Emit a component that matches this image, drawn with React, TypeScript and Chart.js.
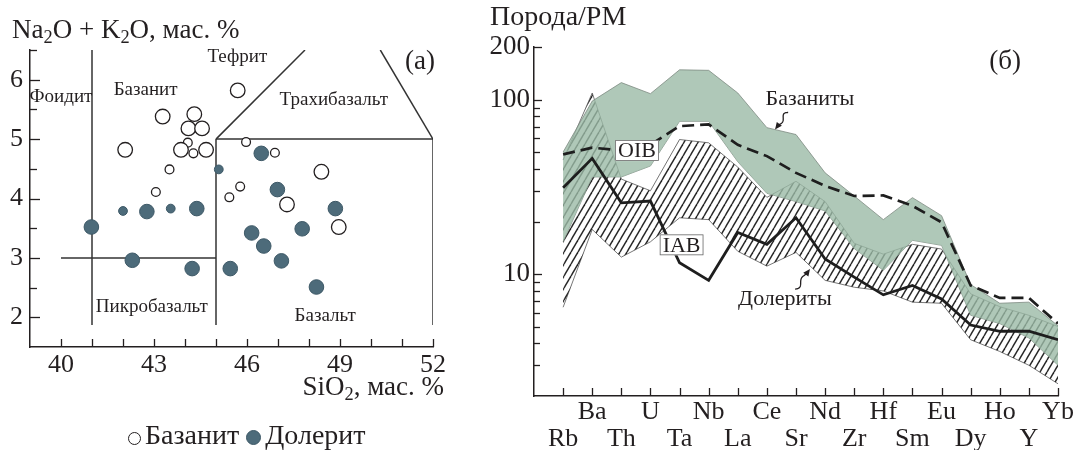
import React, { useEffect, useRef } from 'react';
import { Chart, registerables } from 'chart.js';

Chart.register(...registerables);

const FONT = "'Liberation Serif', 'Times New Roman', serif";
const INK = '#231f20';

// ---------- Panel (a): TAS diagram ----------
const basaniteLarge: number[][] = [
  [45.7, 5.82], [43.28, 5.38], [44.3, 5.42], [44.11, 5.18], [44.55, 5.18], [42.07, 4.82],
  [43.87, 4.82], [44.68, 4.82], [48.4, 4.45], [47.29, 3.9], [48.96, 3.52],
];
const basaniteSmall: number[][] = [
  [44.09, 4.94], [44.27, 4.76], [45.97, 4.95], [46.9, 4.77], [43.5, 4.49], [43.06, 4.11],
  [45.78, 4.2], [45.43, 4.02],
];
const doleriteLarge: number[][] = [
  [46.46, 4.76], [46.98, 4.15], [42.77, 3.78], [44.38, 3.83], [48.85, 3.83], [40.98, 3.52],
  [46.15, 3.42], [47.78, 3.49], [46.54, 3.2], [42.3, 2.96], [47.11, 2.95], [44.23, 2.82],
  [45.46, 2.82], [48.24, 2.51],
];
const doleriteSmall: number[][] = [[45.09, 4.49], [42.0, 3.79], [43.54, 3.83]];

const tasBoundaries: number[][][] = [
  [[41, 1.87], [41, 6.5]],
  [[40, 3], [45, 3]],
  [[45, 1.87], [45, 5]],
  [[45, 5], [47.87, 6.5]],
  [[45, 5], [52, 5]],
  [[52, 1.87], [52, 5]],
  [[52, 5], [50.3, 6.5]],
];
const tasFieldNames = ['Фоидит', 'Базанит', 'Тефрит', 'Трахибазальт', 'Пикробазальт', 'Базальт'];
const tasFieldAt: number[][] = [[40.0, 5.71], [42.73, 5.83], [45.69, 6.38], [48.8, 5.66], [42.93, 2.17], [48.52, 2.02]];
const siO2Ticks = [40, 41, 42, 43, 44, 45, 46, 47, 48, 49, 50, 51, 52];
const alkTicks = [2, 2.5, 3, 3.5, 4, 4.5, 5, 5.5, 6, 6.5];

// ---------- Panel (б): spider diagram ----------
const elements = ['Rb', 'Ba', 'Th', 'U', 'Ta', 'Nb', 'La', 'Ce', 'Sr', 'Nd', 'Zr', 'Hf', 'Sm', 'Eu', 'Dy', 'Ho', 'Y', 'Yb'];
const basaniteMax = [50, 98, 125, 108, 148, 147, 109, 69, 63, 38, 28, 20.5, 27.4, 21.6, 8.7, 6.8, 6.9, 5.05];
const basaniteMin = [15.3, 36, 36, 41.6, 75, 75, 44, 29, 26, 23, 14, 10.5, 15.6, 14.6, 5.8, 5.2, 4.3, 3.0];
const doleriteMax = [45, 109, 35, 30, 59, 56.5, 41, 27.5, 34, 26, 15, 13, 14.8, 13.9, 7.7, 6.5, 5.8, 5.0];
const doleriteMin = [6.45, 18, 12.5, 15.3, 21, 20.5, 13.5, 11.1, 13.3, 9.2, 8.4, 8.0, 6.9, 6.8, 4.2, 3.6, 3.0, 2.35];
const oib = [48.5, 53, 51, 55, 70.4, 72, 55, 47.4, 38, 32, 28, 28.2, 24.6, 19.8, 8.6, 7.3, 7.3, 5.2];
const iab = [31.2, 46, 25.6, 26.2, 11.6, 9.2, 17.3, 14.8, 21, 12.2, 9.6, 7.6, 8.6, 7.2, 5.1, 4.7, 4.7, 4.2];
const spiderTicks = [3, 4, 5, 6, 7, 8, 9, 10, 20, 30, 40, 50, 60, 70, 80, 90, 100, 200];
const spiderLabelled = [10, 100, 200];

const toXY = (pts: number[][]) => pts.map(([x, y]) => ({ x, y }));
const series = (vals: number[]) => vals.map((y, x) => ({ x, y }));

function makeHatch(): CanvasPattern | string {
  const w = 7, h = 12;
  const c = document.createElement('canvas');
  c.width = w; c.height = h;
  const g = c.getContext('2d');
  if (!g) return 'rgba(0,0,0,0.2)';
  g.strokeStyle = '#262626';
  g.lineWidth = 1.45;
  for (const dx of [-w, 0, w]) {
    g.beginPath(); g.moveTo(dx, h); g.lineTo(dx + w, 0); g.stroke();
  }
  return g.createPattern(c, 'repeat') || 'rgba(0,0,0,0.2)';
}

function inwardTicks(id: string, xLen: (v: number) => number, yLen: (v: number) => number) {
  return {
    id,
    afterDraw(chart: any) {
      const { ctx, chartArea: a } = chart;
      const xs = chart.scales.x, ys = chart.scales.y;
      ctx.save();
      ctx.strokeStyle = INK;
      ctx.lineWidth = 1.3;
      xs.ticks.forEach((t: any) => {
        const px = Math.round(xs.getPixelForValue(t.value)) + 0.5;
        ctx.beginPath(); ctx.moveTo(px, a.bottom); ctx.lineTo(px, a.bottom - xLen(t.value)); ctx.stroke();
      });
      ys.ticks.forEach((t: any) => {
        const py = Math.round(ys.getPixelForValue(t.value)) + 0.5;
        ctx.beginPath(); ctx.moveTo(a.left, py); ctx.lineTo(a.left + yLen(t.value), py); ctx.stroke();
      });
      ctx.restore();
    },
  };
}

function squiggle(ctx: CanvasRenderingContext2D, x0: number, y0: number, x1: number, y1: number) {
  const dx = x1 - x0, dy = y1 - y0;
  const len = Math.hypot(dx, dy);
  const ux = dx / len, uy = dy / len, nx = -uy, ny = ux;
  ctx.save();
  ctx.strokeStyle = INK; ctx.fillStyle = INK; ctx.lineWidth = 1.3;
  ctx.beginPath();
  const N = 40;
  for (let i = 0; i <= N; i++) {
    const t = (i / N) * 0.75;
    const amp = 3.2 * Math.sin((t / 0.75) * Math.PI * 2) * (1 - t);
    const px = x0 + dx * t + nx * amp, py = y0 + dy * t + ny * amp;
    if (i === 0) ctx.moveTo(px, py); else ctx.lineTo(px, py);
  }
  ctx.lineTo(x1 - ux * 4, y1 - uy * 4);
  ctx.stroke();
  ctx.beginPath();
  ctx.moveTo(x1, y1);
  ctx.lineTo(x1 - ux * 7 + nx * 3.2, y1 - uy * 7 + ny * 3.2);
  ctx.lineTo(x1 - ux * 7 - nx * 3.2, y1 - uy * 7 - ny * 3.2);
  ctx.closePath();
  ctx.fill();
  ctx.restore();
}

const tasNotes = {
  id: 'tasNotes',
  afterDraw(chart: any) {
    const { ctx } = chart;
    const xs = chart.scales.x, ys = chart.scales.y;
    ctx.save();
    ctx.fillStyle = INK;
    ctx.textAlign = 'center';
    ctx.textBaseline = 'middle';
    ctx.font = `19px ${FONT}`;
    tasFieldNames.forEach((name, i) => {
      ctx.fillText(name, xs.getPixelForValue(tasFieldAt[i][0]), ys.getPixelForValue(tasFieldAt[i][1]));
    });
    ctx.font = `27px ${FONT}`;
    ctx.fillText('(a)', xs.getPixelForValue(51.58), ys.getPixelForValue(6.3));
    ctx.restore();
  },
};

const spiderNotes = {
  id: 'spiderNotes',
  afterDraw(chart: any) {
    const { ctx } = chart;
    const xs = chart.scales.x, ys = chart.scales.y;
    const P = (x: number, y: number) => [xs.getPixelForValue(x), ys.getPixelForValue(y)];
    ctx.save();
    ctx.fillStyle = INK;
    ctx.textAlign = 'center';
    ctx.textBaseline = 'middle';
    ctx.font = `22px ${FONT}`;
    let [px, py] = P(8.48, 100);
    ctx.fillText('Базаниты', px, py);
    [px, py] = P(7.62, 7.2);
    ctx.fillText('Долериты', px, py);
    ctx.font = `27px ${FONT}`;
    [px, py] = P(15.18, 165);
    ctx.fillText('(б)', px, py);
    // boxed labels
    ctx.font = `22px ${FONT}`;
    const boxes: [string, number, number][] = [['OIB', 2.54, 51], ['IAB', 4.07, 14.7]];
    boxes.forEach(([t, x, y]) => {
      const [bx, by] = P(x, y);
      const w = ctx.measureText(t).width + 6, h = 21;
      ctx.fillStyle = '#fff';
      ctx.fillRect(bx - w / 2, by - h / 2, w, h);
      ctx.strokeStyle = '#666'; ctx.lineWidth = 0.8;
      ctx.strokeRect(bx - w / 2 + 0.5, by - h / 2 + 0.5, w - 1, h - 1);
      ctx.fillStyle = INK;
      ctx.fillText(t, bx, by + 1);
    });
    const a0 = P(7.73, 84.3), a1 = P(7.28, 67.4);
    squiggle(ctx, a0[0], a0[1], a1[0], a1[1]);
    const b0 = P(7.97, 8.2), b1 = P(8.48, 10.7);
    squiggle(ctx, b0[0], b0[1], b1[0], b1[1]);
    ctx.restore();
  },
};

const pointSet = (pts: number[][], r: number, filled: boolean) => ({
  data: toXY(pts),
  pointRadius: r,
  pointHoverRadius: r,
  pointBackgroundColor: filled ? '#4d6b7a' : '#ffffff',
  pointBorderColor: filled ? '#3d5866' : INK,
  pointBorderWidth: filled ? 1 : 1.3,
  showLine: false,
  order: 1,
});

export default function App() {
  const leftRef = useRef<HTMLCanvasElement>(null);
  const rightRef = useRef<HTMLCanvasElement>(null);

  useEffect(() => {
    Chart.defaults.font.family = FONT;
    Chart.defaults.color = INK;
    const axisCommon = {
      grid: { display: true, drawOnChartArea: false, drawTicks: false },
      border: { display: true, color: INK, width: 1.5 },
    };

    const left = new Chart(leftRef.current as HTMLCanvasElement, {
      type: 'scatter',
      data: {
        datasets: [
          ...tasBoundaries.map((seg) => ({
            type: 'line' as const,
            data: toXY(seg),
            borderColor: '#333',
            borderWidth: 1.5,
            pointRadius: 0,
            fill: false,
            showLine: true,
            order: 10,
          })),
          pointSet(basaniteLarge, 7.3, false),
          pointSet(basaniteSmall, 4.4, false),
          pointSet(doleriteLarge, 7.3, true),
          pointSet(doleriteSmall, 4.4, true),
        ] as any,
      },
      options: {
        responsive: false,
        animation: false,
        events: [],
        layout: { padding: { left: 0, right: 27, top: 50, bottom: 0 } },
        plugins: { legend: { display: false }, tooltip: { enabled: false } },
        scales: {
          x: {
            type: 'linear', min: 39, max: 52, ...axisCommon,
            afterBuildTicks: (s: any) => { s.ticks = siO2Ticks.map((value) => ({ value })); },
            afterFit: (s: any) => { s.height = 103; },
            ticks: {
              font: { size: 26 }, color: INK, padding: 3, autoSkip: false, maxRotation: 0, minRotation: 0,
              callback: (v: any) => ((Number(v) - 40) % 3 === 0 ? String(v) : ''),
            },
          },
          y: {
            type: 'linear', min: 1.5, max: 6.5, ...axisCommon,
            afterBuildTicks: (s: any) => { s.ticks = alkTicks.map((value) => ({ value })); },
            afterFit: (s: any) => { s.width = 30; },
            ticks: {
              font: { size: 26 }, color: INK, padding: 7, autoSkip: false,
              callback: (v: any) => (Number.isInteger(Number(v)) ? String(v) : ''),
            },
          },
        },
      } as any,
      plugins: [inwardTicks('tasTicks', () => 8, (v) => (Number.isInteger(v) ? 10 : 7)), tasNotes],
    });

    const hatch = makeHatch();
    const right = new Chart(rightRef.current as HTMLCanvasElement, {
      type: 'line',
      data: {
        datasets: [
          { label: 'IAB', data: series(iab), borderColor: '#1e1e1e', borderWidth: 2.8, pointRadius: 0, fill: false },
          { label: 'OIB', data: series(oib), borderColor: '#1e1e1e', borderWidth: 2.7, borderDash: [12, 6], pointRadius: 0, fill: false },
          { label: 'Базаниты max', data: series(basaniteMax), borderColor: '#7d8a82', borderWidth: 0.8, pointRadius: 0, fill: '+1', backgroundColor: 'rgba(155,186,166,0.8)' },
          { label: 'Базаниты min', data: series(basaniteMin), borderColor: '#7d8a82', borderWidth: 0.8, pointRadius: 0, fill: false },
          { label: 'Долериты max', data: series(doleriteMax), borderColor: '#555', borderWidth: 0.8, pointRadius: 0, fill: '+1', backgroundColor: hatch },
          { label: 'Долериты min', data: series(doleriteMin), borderColor: '#555', borderWidth: 0.8, pointRadius: 0, fill: false },
        ] as any,
      },
      options: {
        responsive: false,
        animation: false,
        events: [],
        layout: { padding: { left: 0, right: 20, top: 47, bottom: 0 } },
        plugins: { legend: { display: false }, tooltip: { enabled: false } },
        scales: {
          x: {
            type: 'linear', min: -1, max: 17, ...axisCommon,
            afterBuildTicks: (s: any) => { s.ticks = elements.map((_, value) => ({ value })); },
            afterFit: (s: any) => { s.height = 54; },
            ticks: {
              font: { size: 26, lineHeight: 1.04 }, color: INK, padding: 3, autoSkip: false, maxRotation: 0, minRotation: 0,
              callback: (v: any) => {
                const i = Math.round(Number(v));
                const n = elements[i] || '';
                return i % 2 === 1 ? n : ['', n];
              },
            },
          },
          y: {
            type: 'logarithmic', min: 2, max: 200, ...axisCommon,
            afterBuildTicks: (s: any) => { s.ticks = spiderTicks.map((value) => ({ value })); },
            afterFit: (s: any) => { s.width = 54; },
            ticks: {
              font: { size: 27 }, color: INK, padding: 4, autoSkip: false,
              callback: (v: any) => (spiderLabelled.includes(Number(v)) ? String(v) : ''),
            },
          },
        },
      } as any,
      plugins: [inwardTicks('spiderTicks', () => 8, (v) => (spiderLabelled.includes(v) ? 8 : 6)), spiderNotes],
    });

    return () => { left.destroy(); right.destroy(); };
  }, []);

  const dot = (filled: boolean): React.CSSProperties => ({
    display: 'inline-block',
    width: filled ? 15 : 13,
    height: filled ? 15 : 13,
    borderRadius: '50%',
    boxSizing: 'border-box',
    border: filled ? '1px solid #3d5866' : `1.3px solid ${INK}`,
    background: filled ? '#4d6b7a' : '#fff',
    marginRight: 4,
    verticalAlign: '-1px',
  });
  const sub: React.CSSProperties = { fontSize: '0.68em', verticalAlign: '-0.28em', lineHeight: 0 };

  return (
    <div style={{ position: 'absolute', left: 0, top: 0, width: 1078, height: 450, background: '#fff', fontFamily: FONT, color: INK, overflow: 'hidden' }}>
      <canvas ref={leftRef} width={460} height={450} style={{ position: 'absolute', left: 0, top: 0 }} />
      <canvas ref={rightRef} width={598} height={450} style={{ position: 'absolute', left: 480, top: 0 }} />
      <div style={{ position: 'absolute', left: 12, top: 16, fontSize: 27, lineHeight: '27px', whiteSpace: 'nowrap' }}>
        Na<sub style={sub}>2</sub>O + K<sub style={sub}>2</sub>O, мас. %
      </div>
      <div style={{ position: 'absolute', right: 1078 - 444, top: 373, fontSize: 27, lineHeight: '27px', whiteSpace: 'nowrap' }}>
        SiO<sub style={sub}>2</sub>, мас. %
      </div>
      <div style={{ position: 'absolute', left: 128, top: 421, fontSize: 28, lineHeight: '28px', whiteSpace: 'nowrap' }}>
        <span style={dot(false)} />Базанит <span style={dot(true)} />Долерит
      </div>
      <div style={{ position: 'absolute', left: 490, top: 2, fontSize: 28, lineHeight: '28px', whiteSpace: 'nowrap' }}>
        Порода/РМ
      </div>
    </div>
  );
}
